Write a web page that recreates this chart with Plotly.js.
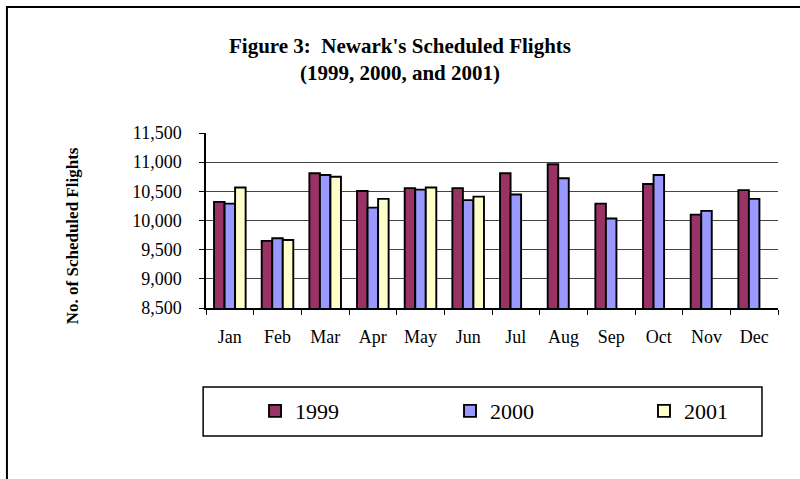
<!DOCTYPE html>
<html>
<head>
<meta charset="utf-8">
<script src="https://cdn.plot.ly/plotly-3.0.1.min.js"></script>
<style>
  html, body { margin: 0; padding: 0; background: #fff; }
  #chart { width: 800px; height: 479px; }
</style>
</head>
<body>
<div id="chart"></div>
<script>
// Newark scheduled flights per month
const months = ['Jan', 'Feb', 'Mar', 'Apr', 'May', 'Jun', 'Jul', 'Aug', 'Sep', 'Oct', 'Nov', 'Dec'];
const flights1999 = [10320, 9650, 10810, 10505, 10555, 10555, 10810, 10965, 10290, 10625, 10100, 10520];
const flights2000 = [10290, 9695, 10780, 10220, 10530, 10350, 10445, 10725, 10035, 10780, 10165, 10370];
const flights2001 = [10565, 9665, 10750, 10370, 10565, 10410, null, null, null, null, null, null];
const yearNames = ['1999', '2000', '2001'];
const yTicks = [8500, 9000, 9500, 10000, 10500, 11000, 11500];

const serif = "'Liberation Serif', 'Times New Roman', serif";
const barColors = ['#993366', '#9999ff', '#ffffcc'];
const legendIds = ['legend', 'legend2', 'legend3'];
const legendX = [0.0857, 0.4266, 0.7657];

const traces = [flights1999, flights2000, flights2001].map((vals, i) => ({
    x: months,
    y: vals,
    name: yearNames[i],
    type: 'bar',
    legend: legendIds[i],
    marker: { color: barColors[i], line: { color: '#000', width: 1.9 } },
    hoverinfo: 'x+y+name'
}));

// one small legend per year so the three entries sit where the original has them
function legendAt(x) {
    return {
        orientation: 'h',
        x: x, xanchor: 'left',
        y: -0.589, yanchor: 'middle',
        font: { family: serif, size: 22, color: '#000' },
        bgcolor: 'rgba(0,0,0,0)',
        borderwidth: 0
    };
}

const layout = {
    width: 800,
    height: 479,
    paper_bgcolor: '#fff',
    plot_bgcolor: '#fff',
    margin: { l: 206, r: 22, t: 133, b: 171 },
    font: { family: serif, color: '#000', size: 18 },
    barmode: 'group',
    bargap: 0.337,
    bargroupgap: 0,
    title: {
        text: '<b>Figure 3:\u00a0 Newark\'s Scheduled Flights<br>(1999, 2000, and 2001)</b>',
        font: { family: serif, size: 21, color: '#000' },
        xref: 'container', x: 0.5, xanchor: 'center',
        yref: 'container', y: 0.89, yanchor: 'middle'
    },
    xaxis: {
        type: 'category',
        showgrid: false,
        showline: true, linecolor: '#000', linewidth: 1.5,
        ticks: 'outside', tickson: 'boundaries', ticklen: 5, tickcolor: '#000',
        ticklabelstandoff: 12,
        tickfont: { family: serif, size: 18 },
        zeroline: false, fixedrange: true
    },
    yaxis: {
        range: [8500, 11500],
        tickvals: yTicks,
        tickformat: ',d',
        showgrid: true, gridcolor: '#444', gridwidth: 1,
        showline: true, linecolor: '#000', linewidth: 1.5,
        ticks: 'outside', ticklen: 5, tickcolor: '#000',
        ticklabelstandoff: 14,
        tickfont: { family: serif, size: 18 },
        zeroline: false, fixedrange: true
    },
    showlegend: true,
    legend: legendAt(legendX[0]),
    legend2: legendAt(legendX[1]),
    legend3: legendAt(legendX[2]),
    annotations: [{
        text: '<b>No. of Scheduled Flights</b>',
        textangle: -90,
        xref: 'paper', yref: 'paper',
        x: -0.234, y: 0.411, xanchor: 'center', yanchor: 'middle',
        showarrow: false,
        font: { family: serif, size: 17, color: '#000' }
    }],
    shapes: [
        // chart-area frame (runs off the right and bottom of the picture)
        { type: 'rect', xref: 'paper', yref: 'paper', x0: -0.348, x1: 1.06, y0: -1.05, y1: 1.72,
          line: { color: '#000', width: 2 }, fillcolor: 'rgba(0,0,0,0)', layer: 'below' },
        // legend box
        { type: 'rect', xref: 'paper', yref: 'paper', x0: -0.005, x1: 0.972, y0: -0.731, y1: -0.451,
          line: { color: '#000', width: 1.5 }, fillcolor: 'rgba(0,0,0,0)', layer: 'below' }
    ]
};

Plotly.newPlot('chart', traces, layout, { displayModeBar: false, responsive: false });
</script>
</body>
</html>
